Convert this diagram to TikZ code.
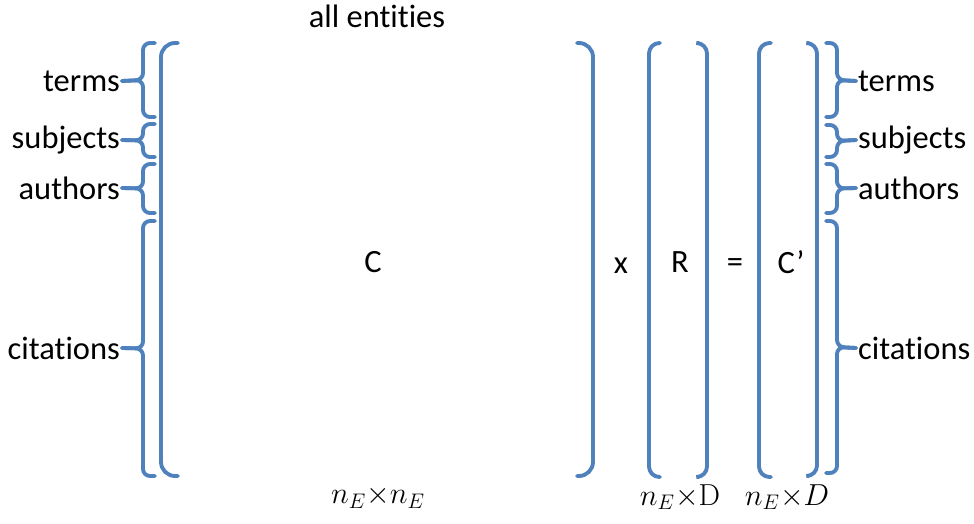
\documentclass[tikz,border=0pt]{standalone}
\usepackage{amsmath}
\usepackage[no-math]{fontspec}
\setmainfont{Carlito}[Ligatures=NoCommon]
\usepackage{xcolor}
\usepackage{tikz}
\usetikzlibrary{positioning}
\usetikzlibrary{calc}

\definecolor{brblue}{RGB}{79,129,189}

% curly brace on the left: top, bottom, label node
\newcommand{\curlyleft}[3]{%
  \draw[brk,rounded corners=4pt] (155,#1) -- (143,#1) -- (143,{(#1+#2)/2}) -- (#3.east);
  \draw[brk,rounded corners=4pt] (155,#2) -- (143,#2) -- (143,{(#1+#2)/2}) -- (#3.east);
}
% curly brace on the right
\newcommand{\curlyright}[3]{%
  \draw[brk,rounded corners=4pt] (826,#1) -- (837,#1) -- (837,{(#1+#2)/2}) -- (#3.west);
  \draw[brk,rounded corners=4pt] (826,#2) -- (837,#2) -- (837,{(#1+#2)/2}) -- (#3.west);
}

\begin{document}
\begin{tikzpicture}[x=0.02cm,y=-0.02cm,
    brk/.style={draw=brblue,line width=2.2pt,line cap=round},
    lbl/.style={font=\fontsize{18.5}{22}\selectfont,inner sep=1pt},
    dimlbl/.style={font=\fontsize{17.5}{21}\selectfont,inner sep=1pt}]
    \useasboundingbox (0,0) rectangle (974,524);

    % row labels
    \node[lbl,anchor=east] (termsL) at (122,81) {terms};
    \node[lbl,anchor=east] (subjL) at (122,140) {subjects};
    \node[lbl,anchor=east] (authL) at (122,188) {authors};
    \node[lbl,anchor=east] (citL) at (122,348) {citations};
    \node[lbl,anchor=west] (termsR) at (856,81) {terms};
    \node[lbl,anchor=west] (subjR) at (856,140) {subjects};
    \node[lbl,anchor=west] (authR) at (856,188) {authors};
    \node[lbl,anchor=west] (citR) at (856,348) {citations};

    \curlyleft{43}{117}{termsL}
    \curlyleft{124}{157}{subjL}
    \curlyleft{164}{213}{authL}
    \curlyleft{221}{476}{citL}
    \curlyright{43}{117}{termsR}
    \curlyright{125}{157}{subjR}
    \curlyright{164}{213}{authR}
    \curlyright{221}{473}{citR}

    % matrix brackets
    \draw[brk,rounded corners=8pt] (178,43) -- (161,43) -- (161,476) -- (178,476);
    \draw[brk,rounded corners=8pt] (577,43) -- (593,43) -- (593,476) -- (577,476);
    \draw[brk,rounded corners=6pt] (660,43) -- (649,43) -- (649,477) -- (660,477);
    \draw[brk,rounded corners=6pt] (699,43) -- (707,43) -- (707,477) -- (699,477);
    \draw[brk,rounded corners=6pt] (771,43) -- (759,43) -- (759,477) -- (771,477);
    \draw[brk,rounded corners=6pt] (809,43) -- (817,43) -- (817,476) -- (809,476);

    % matrices
    \node[lbl] (allE) at (377,16) {all entities};
    \node[lbl] (C) at (373,262) {C};
    \node[lbl] (times) at (621,266) {x};
    \node[lbl] (R) at (680,262) {R};
    \node[lbl] (eq) at (735,266) {=};
    \node[lbl] (Cp) at (791,262) {C’};

    % sizes
    \node[dimlbl] (dimC) at (378,497) {$n_E{\times}n_E$};
    \node[dimlbl] (dimR) at (680,497) {$n_E{\times}\mathrm{D}$};
    \node[dimlbl] (dimCp) at (787,497) {$n_E{\times}D$};
\end{tikzpicture}
\end{document}
